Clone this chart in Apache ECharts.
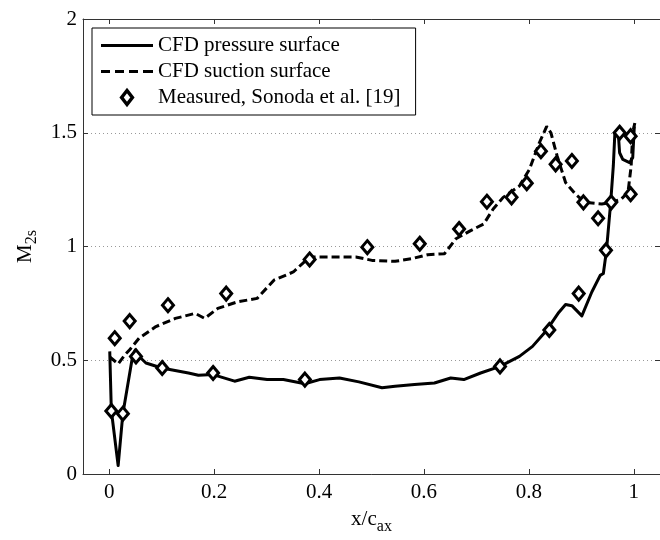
<!DOCTYPE html>
<html>
<head>
<meta charset="utf-8">
<script src="https://cdn.jsdelivr.net/npm/echarts@6/dist/echarts.min.js"></script>
<style>
  html, body { margin: 0; padding: 0; background: #fff; }
  #chart { width: 660px; height: 540px; }
</style>
</head>
<body>
<div id="chart"></div>
<script>
// values, [x/c_ax, M_2s]
const pressureSurface = [
  [0.001, 0.539], [0.004, 0.28], [0.017, 0.037], [0.026, 0.265], [0.045, 0.524], [0.05, 0.546],
  [0.06, 0.51], [0.07, 0.488], [0.1, 0.466], [0.151, 0.444], [0.17, 0.434], [0.198, 0.437],
  [0.239, 0.408], [0.267, 0.425], [0.301, 0.415], [0.332, 0.415], [0.373, 0.397], [0.401, 0.415],
  [0.439, 0.422], [0.476, 0.405], [0.52, 0.379], [0.545, 0.386], [0.582, 0.393], [0.62, 0.4],
  [0.651, 0.422], [0.676, 0.415], [0.708, 0.444], [0.745, 0.473], [0.782, 0.517], [0.807, 0.561],
  [0.832, 0.626], [0.845, 0.67], [0.857, 0.71], [0.87, 0.745], [0.882, 0.74], [0.901, 0.695],
  [0.92, 0.8], [0.936, 0.873], [0.942, 0.881], [0.948, 0.983], [0.956, 1.194], [0.961, 1.354],
  [0.964, 1.5], [0.97, 1.514], [0.973, 1.412], [0.979, 1.383], [0.992, 1.369], [0.998, 1.39],
  [1.001, 1.528]
];

const suctionSurface = [
  [0.001, 0.515], [0.017, 0.484], [0.03, 0.524], [0.039, 0.546], [0.057, 0.597], [0.089, 0.648],
  [0.126, 0.684], [0.164, 0.706], [0.182, 0.684], [0.207, 0.728], [0.245, 0.757], [0.282, 0.772],
  [0.314, 0.852], [0.351, 0.888], [0.382, 0.954], [0.42, 0.954], [0.47, 0.954], [0.501, 0.939],
  [0.545, 0.935], [0.576, 0.946], [0.607, 0.964], [0.639, 0.968], [0.661, 1.034], [0.689, 1.07],
  [0.714, 1.099], [0.732, 1.165], [0.751, 1.216], [0.782, 1.266], [0.801, 1.339], [0.82, 1.456],
  [0.834, 1.528], [0.842, 1.5], [0.854, 1.397], [0.87, 1.281], [0.889, 1.23], [0.907, 1.194],
  [0.939, 1.187], [0.957, 1.194], [0.976, 1.208], [0.989, 1.238], [0.995, 1.354], [0.998, 1.5],
  [1.002, 1.543]
];

const measured = [
  [0.004, 0.277], [0.026, 0.265], [0.0105, 0.597], [0.039, 0.672], [0.112, 0.742], [0.223, 0.793],
  [0.382, 0.943], [0.492, 0.997], [0.592, 1.012], [0.667, 1.077], [0.72, 1.197], [0.767, 1.216],
  [0.796, 1.278], [0.823, 1.419], [0.851, 1.361], [0.882, 1.376], [0.904, 1.194], [0.932, 1.124],
  [0.957, 1.194], [0.973, 1.5], [0.994, 1.485], [0.994, 1.23],
  [0.051, 0.517], [0.101, 0.466], [0.198, 0.444], [0.373, 0.415], [0.745, 0.473], [0.839, 0.633],
  [0.895, 0.793], [0.947, 0.983]
];

const xTicks = [0, 0.2, 0.4, 0.6, 0.8, 1];
const yTicks = [0, 0.5, 1, 1.5, 2];
const legendNames = ['CFD pressure surface', 'CFD suction surface', 'Measured, Sonoda et al. [19]'];

const font = "'Liberation Serif', 'Times New Roman', serif";
const fs = 21;
let myChart = echarts.init(document.getElementById('chart'));

// legend icons: plain line, dashed line, hollow diamond
const solidIcon = 'path://M0,0H52V3H0Z';
const dashIcon = 'path://M0,0H9V3H0Z M14,0H23V3H14Z M28,0H37V3H28Z M42,0H52V3H42Z';
const diamondIcon = 'path://M5,0L10,6.5L5,13L0,6.5Z';

const tickFmt = v => String(v);
const frameAxis = (pos, isX) => ({
  type: 'value',
  position: pos,
  min: isX ? -0.05 : 0,
  max: isX ? 1.05 : 2,
  axisLine: { show: true, onZero: false, lineStyle: { color: '#333', width: 1 } },
  axisTick: { show: true, inside: true, length: 5, customValues: isX ? xTicks : yTicks, lineStyle: { color: '#333' } },
  axisLabel: { show: false },
  splitLine: { show: false }
});

myChart.setOption({
  animation: false,
  backgroundColor: '#fff',
  grid: { left: 83, right: -9, top: 19, bottom: 63 },
  legend: {
    orient: 'vertical',
    left: 92,
    top: 28,
    padding: [7, 15, 7, 9],
    itemGap: 5,
    itemWidth: 52,
    itemHeight: 14,
    borderColor: '#000',
    borderWidth: 1,
    backgroundColor: '#fff',
    selectedMode: false,
    textStyle: { fontFamily: font, fontSize: fs, color: '#000' },
    data: [
      { name: legendNames[0], icon: solidIcon, itemStyle: { color: '#000', borderWidth: 0 } },
      { name: legendNames[1], icon: dashIcon, itemStyle: { color: '#000', borderWidth: 0 } },
      { name: legendNames[2], icon: diamondIcon, itemStyle: { color: '#fff', borderColor: '#000', borderWidth: 3.5 } }
    ]
  },
  xAxis: [
    {
      type: 'value',
      min: -0.05,
      max: 1.05,
      name: '{m|x/c}{s|ax}',
      nameLocation: 'middle',
      nameGap: 30,
      nameTextStyle: {
        rich: {
          m: { fontFamily: font, fontSize: fs, color: '#000' },
          s: { fontFamily: font, fontSize: 16, color: '#000', padding: [15, 0, 0, 0] }
        }
      },
      axisLine: { show: true, onZero: false, lineStyle: { color: '#333', width: 1 } },
      axisTick: { show: true, inside: true, length: 5, customValues: xTicks, lineStyle: { color: '#333' } },
      axisLabel: { customValues: xTicks, formatter: tickFmt, margin: 8, fontFamily: font, fontSize: fs, color: '#000' },
      splitLine: { show: false }
    },
    frameAxis('top', true)
  ],
  yAxis: [
    {
      type: 'value',
      min: 0,
      max: 2,
      name: '{m|M}{s|2s}',
      nameLocation: 'middle',
      nameGap: 40,
      nameTextStyle: {
        rich: {
          m: { fontFamily: font, fontSize: fs, color: '#000' },
          s: { fontFamily: font, fontSize: 16, color: '#000', padding: [13, 0, 0, 0] }
        }
      },
      axisLine: { show: true, onZero: false, lineStyle: { color: '#333', width: 1 } },
      axisTick: { show: true, inside: true, length: 5, customValues: yTicks, lineStyle: { color: '#333' } },
      axisLabel: { customValues: yTicks, formatter: tickFmt, margin: 6, fontFamily: font, fontSize: fs, color: '#000' },
      splitLine: { show: true, lineStyle: { color: '#999', width: 1, type: [1, 3] } }
    },
    frameAxis('right', false)
  ],
  series: [
    {
      name: legendNames[0],
      type: 'line',
      data: pressureSurface,
      symbol: 'none',
      lineStyle: { color: '#000', width: 3, join: 'round' },
      itemStyle: { color: '#000' },
      z: 3
    },
    {
      name: legendNames[1],
      type: 'line',
      data: suctionSurface,
      symbol: 'none',
      lineStyle: { color: '#000', width: 3, type: [8, 4] },
      itemStyle: { color: '#000' },
      z: 3
    },
    {
      name: legendNames[2],
      type: 'scatter',
      data: measured,
      symbol: 'diamond',
      symbolSize: [11, 13],
      itemStyle: { color: '#fff', borderColor: '#000', borderWidth: 3, opacity: 1 },
      z: 4
    }
  ]
});
</script>
</body>
</html>
